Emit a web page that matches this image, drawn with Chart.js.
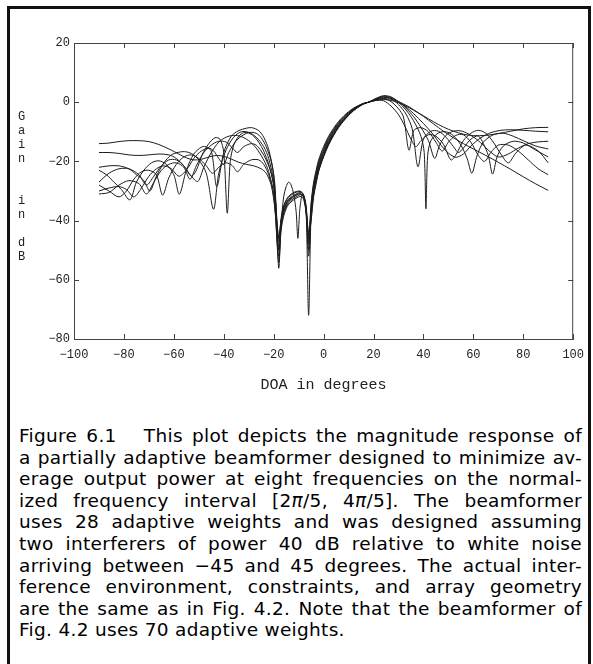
<!DOCTYPE html>
<html><head><meta charset="utf-8">
<script src="https://cdn.jsdelivr.net/npm/chart.js@4/dist/chart.umd.min.js"></script>
<style>
html,body{margin:0;padding:0;background:#fff;}
body{width:593px;height:664px;position:relative;overflow:hidden;}
#frame{position:absolute;left:7px;top:6px;width:578px;height:700px;border:3px solid #111;border-bottom:none;}
#c{position:absolute;left:0;top:0;}
#ylab{position:absolute;left:18px;top:110px;font-family:"Liberation Mono",monospace;font-size:12px;line-height:14px;color:#222;}
#caption{position:absolute;left:19px;top:425px;width:563px;font-family:"DejaVu Sans",sans-serif;font-size:18.5px;letter-spacing:0.3px;line-height:21.6px;color:#000;}
#caption div{text-align:justify;text-align-last:justify;}
#caption div.last{text-align-last:left;}
</style></head><body>
<div id="frame"></div>
<canvas id="c" width="593" height="400"></canvas>
<div id="ylab"><div>G</div><div>a</div><div>i</div><div>n</div><div>&nbsp;</div><div>&nbsp;</div><div>i</div><div>n</div><div>&nbsp;</div><div>d</div><div>B</div></div>
<div id="caption">
<div>Figure 6.1&nbsp;&nbsp; This plot depicts the magnitude response of</div>
<div>a partially adaptive beamformer designed to minimize av-</div>
<div>erage output power at eight frequencies on the normal-</div>
<div>ized frequency interval [2<i>π</i>/5, 4<i>π</i>/5]. The beamformer</div>
<div>uses 28 adaptive weights and was designed assuming</div>
<div>two interferers of power 40 dB relative to white noise</div>
<div>arriving between &minus;45 and 45 degrees. The actual inter-</div>
<div>ference environment, constraints, and array geometry</div>
<div>are the same as in Fig. 4.2. Note that the beamformer of</div>
<div class="last">Fig. 4.2 uses 70 adaptive weights.</div>
</div>
<script>
// ---- data: [DOA degrees, gain dB] ----
const xTicks = [-100,-80,-60,-40,-20,0,20,40,60,80,100];
const yTicks = [-80,-60,-40,-20,0,20];
const seriesNames = ['f1','f2','f3','f4','f5','f6','f7','f8'];

const curveA = [[-90,-14],[-86,-13.8],[-82,-13.3],[-78,-13],[-74,-13],[-70,-13.3],[-66,-14.3],[-62,-15.8],[-58,-17.5],[-55,-18.8],[-52,-19.5],[-49,-19.3],[-46,-18.5],[-43,-18],[-40,-18.3],[-37,-19.2],[-34,-20.3],[-31,-21],[-28,-21.5],[-25,-22.5],[-23,-24],[-21,-28],[-19.5,-36],
[-18,-47],[-17,-40],[-16,-36],[-15,-34],[-14,-32.8],[-12,-31.5],[-10,-30.6],[-9,-30.4],[-8,-31.3],[-7,-35],[-6,-46],[-5,-34],[-4,-27],[-3,-23],[-2,-19.5],[0,-15],[2,-11.5],[4,-8.8],[6,-6.5],[8,-4.7],[10,-3.2],[12,-2],[14,-1.1],[16,-0.4],
[18,0],[21,0.6],[24,0.9],[27,0.6],[30,-0.2],[33,-1.3],[36,-2.7],[40,-4.6],[44,-6.6],[48,-8.4],[52,-9.8],[56,-10.8],[60,-11.3],[65,-11.2],[70,-10.6],[75,-9.8],[80,-9],[85,-8.6],[90,-8.5]];

const curveB = [[-90,-17],[-86,-17],[-82,-17.3],[-78,-17.8],[-74,-18],[-70,-17.8],[-66,-17.5],[-62,-17.8],[-59,-19],[-56,-21.5],[-53,-25],[-50.4,-26.8],[-48,-22],[-45,-17],[-42,-13.5],[-39,-11.8],[-36,-11.2],[-33,-11.6],[-30,-13],[-27,-15.5],[-24,-19.5],[-22,-23.5],[-20,-31],
[-18,-52],[-17,-41],[-16,-37],[-15,-35],[-14,-33.5],[-12,-32],[-10,-31],[-9,-31],[-8,-32],[-7,-36],[-6,-50],[-5,-35],[-4,-28],[-3,-24],[-2,-20.3],[0,-15.6],[2,-12],[4,-9.2],[6,-6.9],[8,-5],[10,-3.5],[12,-2.2],[14,-1.2],[16,-0.4],
[18,0],[21,0.8],[24,1.2],[27,1],[30,0.2],[33,-1],[36,-2.5],[40,-4.8],[44,-7.3],[48,-9.8],[52,-12],[56,-14],[60,-15.8],[65,-18],[70,-20.3],[75,-22.7],[80,-25.2],[85,-27.6],[90,-29.8]];

const curveC = [[-90,-22],[-86,-21.5],[-82,-21.5],[-78,-22.5],[-75,-24.5],[-72,-26.5],[-69.6,-30],[-67,-25],[-64,-20.5],[-61,-17.8],[-58,-16.9],[-55.7,-16.7],[-53,-17.3],[-50,-19.5],[-47,-24],[-44.1,-36.2],[-42,-24],[-39,-16],[-36,-11.8],[-33,-10],[-30,-10.2],[-27,-11.8],[-24,-15],[-22,-19],[-20,-27],
[-18,-49],[-17,-40],[-16,-35.5],[-15,-33.5],[-14,-32.2],[-12,-30.8],[-10,-30.2],[-9,-30.3],[-8,-31.5],[-7,-37],[-6,-72],[-5,-37],[-4,-28.5],[-3,-24.5],[-2,-21],[0,-16.2],[2,-12.5],[4,-9.6],[6,-7.2],[8,-5.3],[10,-3.7],[12,-2.4],[14,-1.3],[16,-0.5],
[18,0],[21,1],[24,1.6],[27,1.3],[30,0.2],[33,-1.6],[36,-3.8],[40,-7.2],[44,-11],[47,-14.5],[50,-17.2],[53,-18.6],[56,-17.5],[59,-14.8],[63,-12],[67,-10.3],[71,-9.5],[75,-9.3],[80,-9.5],[85,-9.8],[90,-10]];

const curveD = [[-90,-23],[-87,-24.5],[-84,-27],[-81,-29.5],[-77.6,-33],[-75,-27],[-72,-23],[-69,-20.5],[-66,-19.8],[-63,-21],[-60,-24.5],[-57.8,-31.1],[-55,-23],[-52,-17.5],[-49,-15.2],[-47.4,-15],[-45,-16.5],[-42.8,-28.5],[-40,-17],[-37,-11.5],[-34,-9.6],[-31,-8.8],[-28.8,-8.6],[-26,-9.6],[-24,-11.8],[-22,-16],[-20,-24.5],
[-18,-50],[-17,-42],[-16,-37.5],[-15,-35.5],[-14,-34],[-12,-32.5],[-10,-31.5],[-9,-31.2],[-8,-32],[-7,-36.5],[-6,-48],[-5,-36.5],[-4,-29],[-3,-25],[-2,-21.6],[0,-16.8],[2,-13],[4,-10],[6,-7.5],[8,-5.6],[10,-3.9],[12,-2.5],[14,-1.4],[16,-0.5],
[18,0],[21,1.2],[24,2],[27,1.6],[30,0.2],[33,-2],[36,-4.8],[39,-8.5],[42,-13],[44.5,-19],[46.5,-14.5],[49,-11.2],[52,-9.8],[55,-9.7],[58,-10.7],[62,-13],[66,-16.2],[70,-18.5],[74,-17.5],[78,-15.5],[82,-14],[86,-13.4],[90,-13.2]];

const curveE = [[-90,-27],[-86,-24],[-82,-22.5],[-78,-22.5],[-74,-24.5],[-71,-28],[-68,-25],[-65,-21.5],[-62,-19.5],[-59,-19.5],[-56,-21.5],[-53,-25],[-51,-23],[-48.5,-17.5],[-46,-14],[-43.5,-12],[-41.5,-12.5],[-40,-17],[-38.6,-37.5],[-37.4,-20],[-36,-14.5],[-34,-11.5],[-32,-10.3],[-30,-10.4],[-28,-11.5],[-26,-13.5],[-24,-16.5],[-22,-21],[-20,-28],
[-18,-46],[-17,-39],[-16,-35],[-15,-33],[-14,-31.8],[-12,-30.5],[-10,-30],[-9,-30.2],[-8,-31.6],[-7,-36],[-6,-44],[-5,-37.5],[-4,-29.8],[-3,-25.8],[-2,-22.2],[0,-17.3],[2,-13.4],[4,-10.4],[6,-7.8],[8,-5.8],[10,-4.1],[12,-2.6],[14,-1.5],[16,-0.5],
[18,0],[21,1.3],[24,2.2],[27,1.8],[30,0],[33,-2.6],[36,-6.2],[39,-11.5],[40.3,-17],[41,-36],[41.7,-18],[43,-13],[46,-10.4],[49,-10],[52,-11.3],[55,-14.5],[57.5,-19],[59.4,-24],[61.5,-18],[64,-13.5],[68,-11],[72,-10.5],[76,-11.5],[80,-13],[85,-14.8],[90,-15.8]];

const curveF = [[-90,-28],[-86,-30],[-82,-32],[-79,-30],[-76,-26],[-73,-23.5],[-70,-23],[-67,-24.5],[-64.5,-31.4],[-62,-25.5],[-59,-21],[-56,-18.5],[-53,-17.8],[-50,-19],[-47,-21.5],[-44.5,-24],[-42,-22],[-39,-20.5],[-36.5,-21.5],[-34.5,-23.5],[-32,-21],[-29,-19.5],[-26,-19.5],[-24,-21],[-22,-24.5],[-20,-31],
[-18,-54],[-17,-43],[-16,-38.5],[-15,-36],[-14,-34.5],[-12,-33],[-10,-32],[-9,-31.8],[-8,-32.8],[-7,-37.5],[-6,-52],[-5,-38.5],[-4,-30.5],[-3,-26.5],[-2,-22.8],[0,-17.8],[2,-13.8],[4,-10.8],[6,-8.1],[8,-6],[10,-4.3],[12,-2.7],[14,-1.5],[16,-0.6],
[18,0],[21,1],[24,1.8],[27,1.2],[30,-0.8],[33,-4],[35.5,-9],[37.8,-21.8],[40,-12.5],[43,-9.8],[46,-9.8],[49,-11.8],[52,-15],[54,-17],[56,-15.5],[59,-12.5],[62,-11.4],[64,-14],[66,-18],[67.7,-24.3],[69.5,-18.5],[72,-14.8],[76,-13.2],[80,-13.8],[85,-16.2],[90,-18.5]];

const curveG = [[-90,-30],[-86,-29],[-82,-28.5],[-79,-29.5],[-76,-32],[-73,-29],[-70,-25],[-67,-22.5],[-64,-21.5],[-61,-22.5],[-58,-25],[-55,-23],[-52,-19],[-49,-16.5],[-46,-15.5],[-44,-16.5],[-42,-19],[-40,-21],[-38,-17],[-35,-13],[-32,-11],[-29.5,-10.2],[-27,-10.5],[-25,-12],[-23,-15],[-21,-20],[-19.5,-28],
[-18,-56],[-17,-41],[-16,-32],[-15,-28.5],[-14,-27],[-13,-28],[-12,-31],[-11,-37],[-10.3,-46],[-9.5,-36],[-8.5,-31],[-7.5,-33],[-6.7,-40],[-6,-47],[-5,-39],[-4,-31.2],[-3,-27],[-2,-23.2],[0,-18.2],[2,-14.2],[4,-11],[6,-8.4],[8,-6.2],[10,-4.4],[12,-2.8],[14,-1.6],[16,-0.6],
[18,0],[21,0.8],[24,1.2],[27,0.2],[30,-2.2],[32,-5],[34.2,-16.2],[36.2,-9.5],[39,-8.6],[42,-10],[45,-13.5],[47.5,-16.5],[50,-13.5],[53,-11.2],[56,-11],[59,-13.5],[62,-18],[64.5,-20],[67,-17],[70,-14.5],[74,-14.5],[78,-16.5],[82,-19.5],[86,-22.5],[90,-24.5]];

const curveH = [[-90,-31],[-86,-30.5],[-82,-28],[-78,-26.5],[-74,-27.5],[-71,-31],[-68,-27],[-65,-23],[-62,-21],[-59,-20.5],[-56,-22],[-53.5,-26],[-51,-21.5],[-48,-17],[-45,-14.5],[-42,-13.2],[-39,-13.5],[-36.5,-15.5],[-34.5,-17],[-32,-15],[-29,-14],[-27,-14.5],[-25,-16.5],[-23,-19.5],[-21,-24],[-19.5,-31],
[-18,-46],[-17,-40],[-16,-36.5],[-15,-34.5],[-14,-33],[-12,-31.8],[-10,-31],[-9,-31],[-8,-32.2],[-7,-37],[-6,-45],[-5,-40],[-4,-32],[-3,-27.5],[-2,-23.5],[0,-18.5],[2,-14.5],[4,-11.3],[6,-8.6],[8,-6.4],[10,-4.5],[12,-2.9],[14,-1.6],[16,-0.6],
[18,0],[21,0.6],[24,0.5],[27,-1.3],[30,-4.2],[32.5,-8],[35,-12.5],[37,-15],[39,-13],[42,-11],[45,-11.5],[48,-14.2],[51,-19.5],[53,-17.8],[56,-13],[59,-10.5],[62,-9.5],[65,-10.5],[68,-13.5],[71,-17.5],[74,-20.5],[77,-17.2],[81,-14.5],[86,-16.5],[90,-20.5]];

const curves = [curveA,curveB,curveC,curveD,curveE,curveF,curveG,curveH];

const minus = v => String(v).replace('-', '\u2212');
const tickFont = {family:'Liberation Mono', size:12};

// frame on top/right and inward tick marks on all four sides
const framePlugin = {
  id:'frameTicks',
  afterDraw(chart){
    const {ctx, chartArea:a, scales:{x,y}} = chart;
    ctx.save();
    ctx.strokeStyle = '#444'; ctx.lineWidth = 1;
    ctx.beginPath();
    ctx.moveTo(a.left, a.top + 0.5); ctx.lineTo(a.right, a.top + 0.5);
    ctx.moveTo(a.right - 0.5, a.top); ctx.lineTo(a.right - 0.5, a.bottom);
    const L = 5;
    xTicks.forEach(v => {
      const px = Math.round(x.getPixelForValue(v)) + 0.5;
      ctx.moveTo(px, a.bottom); ctx.lineTo(px, a.bottom - L);
      ctx.moveTo(px, a.top); ctx.lineTo(px, a.top + L);
    });
    yTicks.forEach(v => {
      const py = Math.round(y.getPixelForValue(v)) + 0.5;
      ctx.moveTo(a.left, py); ctx.lineTo(a.left + L, py);
      ctx.moveTo(a.right, py); ctx.lineTo(a.right - L, py);
    });
    ctx.stroke();
    ctx.restore();
  }
};

new Chart(document.getElementById('c'), {
  type:'line',
  data:{
    datasets: curves.map((c,i) => ({
      label: seriesNames[i],
      data: c.map(p => ({x:p[0], y:p[1]})),
      borderColor:'#1c1c1c', borderWidth:1, pointRadius:0, tension:0.3, fill:false
    }))
  },
  options:{
    responsive:false, animation:false, devicePixelRatio:1,
    layout:{padding:{left:0, right:17, top:43, bottom:0}},
    plugins:{legend:{display:false}, tooltip:{enabled:false}},
    scales:{
      x:{
        type:'linear', min:-100, max:100,
        afterBuildTicks: s => { s.ticks = xTicks.map(v => ({value:v})); },
        ticks:{font:tickFont, color:'#222', padding:9, maxRotation:0, callback: v => minus(v)},
        grid:{display:false, drawTicks:false},
        border:{display:true, color:'#444', width:1},
        title:{display:true, text:'DOA in degrees', font:{family:'Liberation Mono', size:15}, color:'#222', padding:{top:0, bottom:6}},
        afterFit: s => { s.height = 61; }
      },
      y:{
        type:'linear', min:-80, max:20,
        afterBuildTicks: s => { s.ticks = yTicks.map(v => ({value:v})); },
        ticks:{font:tickFont, color:'#222', padding:4, callback: v => minus(v)},
        grid:{display:false, drawTicks:false},
        border:{display:true, color:'#444', width:1},
        afterFit: s => { s.width = 74; }
      }
    }
  },
  plugins:[framePlugin]
});
</script>
</body></html>
